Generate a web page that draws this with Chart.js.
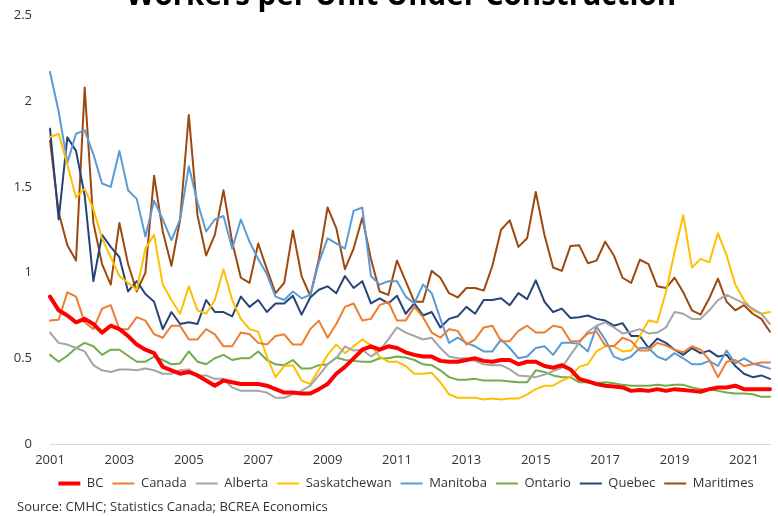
<!DOCTYPE html>
<html>
<head>
<meta charset="utf-8">
<title>Workers per Unit Under Construction</title>
<script src="https://cdn.jsdelivr.net/npm/chart.js@4"></script>
<style>
  html, body { margin: 0; padding: 0; background: #fff; }
  #wrap { width: 778px; height: 516px; position: relative; overflow: hidden; }
</style>
</head>
<body>
<div id="wrap"><canvas id="chart" width="778" height="516"></canvas></div>
<script>
// quarterly, 2001 Q1 .. 2021 Q4
const years = [2001, 2002, 2003, 2004, 2005, 2006, 2007, 2008, 2009, 2010, 2011,
  2012, 2013, 2014, 2015, 2016, 2017, 2018, 2019, 2020, 2021];
const quarters = [];
for (const y of years) for (let q = 1; q <= 4; q++) quarters.push(`${y} Q${q}`);

const bc = [0.86, 0.78, 0.75, 0.71, 0.73, 0.70, 0.65, 0.69, 0.67, 0.63, 0.58, 0.55, 0.53, 0.45, 0.43, 0.41,
  0.42, 0.40, 0.37, 0.34, 0.37, 0.36, 0.35, 0.35, 0.35, 0.34, 0.32, 0.30, 0.30, 0.295, 0.295, 0.32,
  0.35, 0.41, 0.45, 0.50, 0.55, 0.57, 0.55, 0.57, 0.56, 0.535, 0.52, 0.51, 0.51, 0.485, 0.48, 0.48,
  0.49, 0.50, 0.485, 0.48, 0.49, 0.49, 0.465, 0.48, 0.48, 0.455, 0.445, 0.46, 0.435, 0.38, 0.365, 0.35,
  0.34, 0.335, 0.33, 0.31, 0.315, 0.31, 0.32, 0.31, 0.32, 0.315, 0.31, 0.305, 0.32, 0.33, 0.33, 0.34,
  0.32, 0.32, 0.32, 0.32];
const canada = [0.72, 0.725, 0.885, 0.86, 0.71, 0.67, 0.79, 0.81, 0.67, 0.67, 0.74, 0.72, 0.64, 0.62, 0.69, 0.69,
  0.61, 0.61, 0.67, 0.64, 0.57, 0.57, 0.65, 0.64, 0.59, 0.58, 0.63, 0.64, 0.58, 0.58, 0.67, 0.72,
  0.62, 0.70, 0.80, 0.82, 0.72, 0.73, 0.81, 0.83, 0.72, 0.72, 0.80, 0.74, 0.65, 0.62, 0.67, 0.66,
  0.58, 0.61, 0.68, 0.69, 0.60, 0.60, 0.66, 0.69, 0.65, 0.65, 0.69, 0.68, 0.60, 0.60, 0.645, 0.655,
  0.575, 0.57, 0.62, 0.60, 0.545, 0.545, 0.59, 0.575, 0.55, 0.535, 0.57, 0.55, 0.49, 0.39, 0.48, 0.49,
  0.455, 0.465, 0.475, 0.475];
const alberta = [0.65, 0.59, 0.58, 0.56, 0.54, 0.46, 0.43, 0.42, 0.435, 0.435, 0.43, 0.44, 0.43, 0.41, 0.41, 0.43,
  0.435, 0.40, 0.40, 0.38, 0.38, 0.33, 0.31, 0.31, 0.31, 0.30, 0.27, 0.27, 0.29, 0.31, 0.34, 0.40,
  0.465, 0.50, 0.57, 0.545, 0.55, 0.51, 0.545, 0.61, 0.68, 0.65, 0.63, 0.61, 0.62, 0.56, 0.51, 0.50,
  0.50, 0.485, 0.465, 0.46, 0.46, 0.435, 0.40, 0.395, 0.39, 0.405, 0.425, 0.445, 0.52, 0.59, 0.655, 0.69,
  0.71, 0.68, 0.645, 0.655, 0.67, 0.645, 0.65, 0.68, 0.77, 0.76, 0.73, 0.73, 0.78, 0.84, 0.87, 0.845,
  0.82, 0.79, 0.76, 0.70];
const saskatchewan = [1.79, 1.81, 1.63, 1.44, 1.49, 1.37, 1.20, 1.09, 0.98, 0.94, 0.90, 1.14, 1.22, 0.93, 0.84, 0.76,
  0.92, 0.78, 0.76, 0.84, 1.02, 0.84, 0.73, 0.67, 0.655, 0.51, 0.39, 0.455, 0.46, 0.37, 0.35, 0.435,
  0.52, 0.58, 0.53, 0.57, 0.61, 0.575, 0.51, 0.48, 0.48, 0.455, 0.41, 0.41, 0.415, 0.36, 0.29, 0.27,
  0.27, 0.27, 0.26, 0.265, 0.26, 0.265, 0.265, 0.29, 0.32, 0.34, 0.34, 0.37, 0.39, 0.45, 0.465, 0.54,
  0.57, 0.57, 0.54, 0.545, 0.63, 0.72, 0.71, 0.885, 1.12, 1.335, 1.03, 1.08, 1.06, 1.23, 1.10, 0.93,
  0.84, 0.78, 0.76, 0.77];
const manitoba = [2.17, 1.94, 1.64, 1.81, 1.83, 1.69, 1.52, 1.50, 1.71, 1.48, 1.43, 1.21, 1.42, 1.31, 1.19, 1.31,
  1.62, 1.41, 1.24, 1.31, 1.33, 1.14, 1.31, 1.18, 1.08, 0.99, 0.86, 0.84, 0.89, 0.85, 0.87, 1.06,
  1.20, 1.17, 1.14, 1.36, 1.38, 0.98, 0.93, 0.95, 0.95, 0.86, 0.82, 0.93, 0.88, 0.73, 0.59, 0.62,
  0.59, 0.57, 0.54, 0.54, 0.61, 0.56, 0.50, 0.51, 0.56, 0.57, 0.52, 0.59, 0.59, 0.585, 0.54, 0.685,
  0.61, 0.51, 0.49, 0.51, 0.56, 0.56, 0.51, 0.49, 0.53, 0.50, 0.465, 0.465, 0.485, 0.455, 0.545, 0.47,
  0.50, 0.47, 0.455, 0.44];
const ontario = [0.52, 0.48, 0.515, 0.56, 0.59, 0.57, 0.52, 0.55, 0.55, 0.515, 0.48, 0.48, 0.51, 0.49, 0.465, 0.47,
  0.54, 0.48, 0.465, 0.50, 0.52, 0.49, 0.50, 0.50, 0.54, 0.49, 0.465, 0.46, 0.49, 0.44, 0.44, 0.46,
  0.465, 0.505, 0.49, 0.485, 0.48, 0.48, 0.50, 0.50, 0.51, 0.505, 0.49, 0.465, 0.46, 0.43, 0.39, 0.375,
  0.375, 0.38, 0.37, 0.37, 0.37, 0.365, 0.36, 0.36, 0.43, 0.42, 0.40, 0.39, 0.39, 0.36, 0.36, 0.355,
  0.36, 0.355, 0.345, 0.34, 0.34, 0.34, 0.345, 0.34, 0.345, 0.345, 0.33, 0.32, 0.32, 0.31, 0.30, 0.295,
  0.295, 0.29, 0.275, 0.275];
const quebec = [1.84, 1.31, 1.79, 1.71, 1.45, 0.95, 1.22, 1.15, 1.09, 0.89, 0.95, 0.875, 0.83, 0.67, 0.77, 0.70,
  0.71, 0.70, 0.84, 0.77, 0.77, 0.745, 0.86, 0.80, 0.84, 0.77, 0.82, 0.82, 0.865, 0.755, 0.855, 0.90,
  0.92, 0.88, 0.98, 0.91, 0.95, 0.82, 0.85, 0.82, 0.865, 0.76, 0.82, 0.75, 0.77, 0.68, 0.73, 0.745,
  0.80, 0.76, 0.84, 0.84, 0.85, 0.81, 0.88, 0.845, 0.955, 0.83, 0.77, 0.79, 0.735, 0.74, 0.75, 0.73,
  0.72, 0.69, 0.705, 0.63, 0.63, 0.56, 0.615, 0.59, 0.55, 0.52, 0.56, 0.53, 0.545, 0.51, 0.52, 0.455,
  0.41, 0.39, 0.40, 0.38];
const maritimes = [1.77, 1.35, 1.16, 1.07, 2.08, 1.29, 1.05, 0.93, 1.29, 1.05, 0.89, 1.00, 1.565, 1.24, 1.04, 1.31,
  1.92, 1.335, 1.10, 1.22, 1.48, 1.18, 0.97, 0.94, 1.17, 1.02, 0.88, 0.94, 1.245, 0.98, 0.865, 1.08,
  1.38, 1.26, 1.02, 1.14, 1.32, 1.08, 0.89, 0.87, 1.07, 0.95, 0.83, 0.83, 1.01, 0.97, 0.88, 0.855,
  0.91, 0.91, 0.895, 1.04, 1.25, 1.305, 1.15, 1.20, 1.47, 1.22, 1.03, 1.01, 1.155, 1.16, 1.055, 1.07,
  1.18, 1.10, 0.97, 0.94, 1.075, 1.05, 0.92, 0.91, 0.97, 0.885, 0.78, 0.755, 0.85, 0.965, 0.83, 0.78,
  0.81, 0.76, 0.73, 0.655];

const seriesNames = ["BC", "Canada", "Alberta", "Saskatchewan", "Manitoba", "Ontario", "Quebec", "Maritimes"];
const seriesData = [bc, canada, alberta, saskatchewan, manitoba, ontario, quebec, maritimes];
const seriesColors = ["#ff0000", "#ed7d31", "#a5a5a5", "#ffc000", "#5b9bd5", "#70ad47", "#264478", "#9e480e"];

const FONT = "'Open Sans', 'DejaVu Sans', sans-serif";
const TEXT = "#333333";

// title (clipped by the top edge) and source note
const textPlugin = {
  id: "texts",
  afterLayout(chart) {
    // legend sits a little right of the canvas centre in the original
    if (chart.legend) chart.legend.left += 42;
  },
  afterDraw(chart) {
    const ctx = chart.ctx;
    ctx.save();
    ctx.fillStyle = "#000";
    ctx.font = `bold 29.5px ${FONT}`;
    ctx.textAlign = "center";
    ctx.textBaseline = "alphabetic";
    ctx.fillText("Workers per Unit Under Construction", 401, 5);
    ctx.fillStyle = TEXT;
    ctx.font = `13px ${FONT}`;
    ctx.textAlign = "left";
    ctx.textBaseline = "middle";
    ctx.fillText("Source: CMHC; Statistics Canada; BCREA Economics", 17, 507);
    ctx.restore();
  }
};

new Chart(document.getElementById("chart"), {
  type: "line",
  data: {
    labels: quarters,
    datasets: seriesNames.map((name, i) => ({
      label: name,
      data: seriesData[i],
      borderColor: seriesColors[i],
      backgroundColor: seriesColors[i],
      borderWidth: i === 0 ? 4 : 2,
      pointRadius: 0,
      tension: 0,
      borderJoinStyle: "round",
      borderCapStyle: "round",
    })),
  },
  options: {
    responsive: false,
    animation: false,
    events: [],
    layout: { padding: { left: 0, right: 8, top: 15.5, bottom: 16 } },
    plugins: {
      legend: {
        position: "bottom",
        labels: {
          usePointStyle: true,
          pointStyle: "line",
          pointStyleWidth: 22,
          boxHeight: 13,
          padding: 9,
          color: TEXT,
          font: { family: FONT, size: 13 },
        },
      },
      tooltip: { enabled: false },
    },
    scales: {
      x: {
        offset: false,
        grid: { display: false, drawTicks: false },
        border: { display: true, color: "#d9d9d9", width: 1 },
        ticks: {
          autoSkip: false,
          maxRotation: 0,
          padding: 8,
          color: TEXT,
          font: { family: FONT, size: 13 },
          callback: (v, i) => (i % 8 === 0 ? quarters[i].slice(0, 4) : ""),
        },
        afterFit: (scale) => { scale.height = 24; },
      },
      y: {
        min: 0,
        max: 2.5,
        grid: { display: false, drawTicks: false },
        border: { display: false },
        ticks: {
          stepSize: 0.5,
          padding: 18,
          color: TEXT,
          font: { family: FONT, size: 13 },
          callback: (v) => String(v),
        },
        afterFit: (scale) => {
          scale.width = 50;
          scale.paddingTop = 0;
          scale.paddingBottom = 0;
        },
      },
    },
  },
  plugins: [textPlugin],
});
</script>
</body>
</html>
